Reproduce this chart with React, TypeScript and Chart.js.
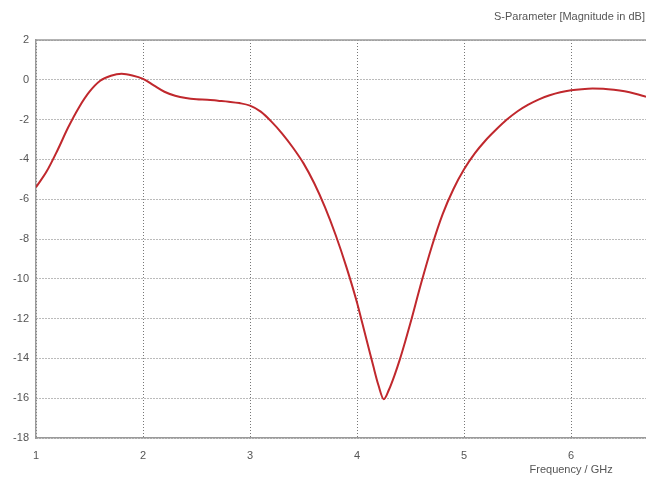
import React, { useEffect, useRef } from "react";
import { Chart, registerables } from "chart.js";

Chart.register(...registerables);

const freqGHz = [
  1.0, 1.1, 1.2, 1.3, 1.4, 1.5, 1.6, 1.7, 1.8, 1.9,
  2.0, 2.1, 2.2, 2.3, 2.4, 2.5, 2.6, 2.7, 2.8, 2.9,
  3.0, 3.1, 3.2, 3.3, 3.4, 3.5, 3.6, 3.7, 3.8, 3.9,
  4.0, 4.05, 4.1, 4.15, 4.2, 4.25, 4.3, 4.35, 4.4, 4.45, 4.5,
  4.6, 4.7, 4.8, 4.9,
  5.0, 5.1, 5.2, 5.3, 5.4, 5.5, 5.6, 5.7, 5.8, 5.9,
  6.0, 6.1, 6.2, 6.3, 6.4, 6.5, 6.6, 6.7,
];
const magnitudeDb = [
  -5.4, -4.6, -3.55, -2.4, -1.4, -0.6, -0.05, 0.2, 0.3, 0.22,
  0.05, -0.28, -0.6, -0.8, -0.92, -0.98, -1.0, -1.05, -1.1, -1.17,
  -1.3, -1.6, -2.1, -2.7, -3.4, -4.2, -5.2, -6.4, -7.8, -9.4,
  -11.2, -12.25, -13.3, -14.35, -15.35, -16.05, -15.55, -14.85, -14.05, -13.15, -12.2,
  -10.2, -8.35, -6.75, -5.5,
  -4.5, -3.7, -3.05, -2.5, -2.0, -1.58, -1.25, -0.98, -0.78, -0.63,
  -0.53, -0.47, -0.44, -0.45, -0.5, -0.58, -0.7, -0.85,
];
const xRange = [1, 6.7];
const yRange = [-18, 2];
const chartTitle = "S-Parameter [Magnitude in dB]";
const xAxisTitle = "Frequency / GHz";

const FONT = "'Liberation Sans', Arial, sans-serif";

const framePlugin = {
  id: "frame",
  afterDraw(chart: any) {
    const { ctx, chartArea } = chart;
    ctx.save();
    ctx.strokeStyle = "#9a9a9a";
    ctx.lineWidth = 1.5;
    ctx.beginPath();
    ctx.moveTo(chartArea.left, chartArea.top);
    ctx.lineTo(chartArea.right, chartArea.top);
    ctx.stroke();
    ctx.fillStyle = "#555";
    ctx.font = `11px ${FONT}`;
    ctx.textBaseline = "middle";
    ctx.textAlign = "right";
    ctx.fillText(chartTitle, 645, 17);
    ctx.textAlign = "center";
    const xs = chart.scales.x;
    ctx.fillText(xAxisTitle, xs.getPixelForValue(6), 470);
    ctx.restore();
  },
};

export default function App() {
  const ref = useRef<HTMLCanvasElement>(null);
  useEffect(() => {
    if (!ref.current) return;
    const chart = new Chart(ref.current, {
      type: "line",
      data: {
        datasets: [
          {
            data: freqGHz.map((f, i) => ({ x: f, y: magnitudeDb[i] })),
            borderColor: "#c0282d",
            borderWidth: 2,
            pointRadius: 0,
            cubicInterpolationMode: "monotone",
            fill: false,
          },
        ],
      },
      options: {
        responsive: false,
        animation: false,
        layout: { padding: { top: 40, right: 0, left: 0, bottom: 0 } },
        plugins: { legend: { display: false }, tooltip: { enabled: false } },
        scales: {
          x: {
            type: "linear",
            min: xRange[0],
            max: xRange[1],
            afterBuildTicks: (s: any) => {
              s.ticks = s.ticks.filter((t: any) => Number.isInteger(t.value));
            },
            afterFit: (s: any) => {
              s.height = 48;
            },
            ticks: {
              stepSize: 1,
              color: "#555",
              font: { family: FONT, size: 11 },
              padding: 11,
              maxRotation: 0,
            },
            grid: {
              color: "#777",
              lineWidth: 1,
              drawTicks: false,
            },
            border: { color: "#9a9a9a", width: 1.5, dash: [1, 2] },
          },
          y: {
            min: yRange[0],
            max: yRange[1],
            afterFit: (s: any) => {
              s.width = 36;
            },
            ticks: {
              stepSize: 2,
              color: "#555",
              font: { family: FONT, size: 11 },
              padding: 7,
            },
            grid: {
              color: "#777",
              lineWidth: 1,
              drawTicks: false,
            },
            border: { color: "#9a9a9a", width: 1.5, dash: [1, 2] },
          },
        },
      },
      plugins: [framePlugin],
    } as any);
    return () => chart.destroy();
  }, []);
  return (
    <div style={{ position: "fixed", left: 0, top: 0, width: 646, height: 486, background: "#fff" }}>
      <canvas ref={ref} width={646} height={486} style={{ width: 646, height: 486 }} />
    </div>
  );
}
